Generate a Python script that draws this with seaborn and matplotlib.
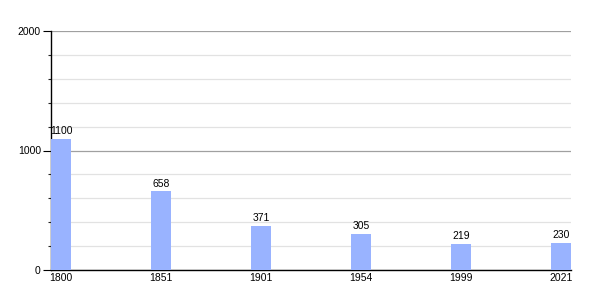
import matplotlib
matplotlib.use("Agg")
import matplotlib.pyplot as plt
import seaborn as sns
import pandas as pd
from matplotlib.ticker import MultipleLocator

years = ["1800", "1851", "1901", "1954", "1999", "2021"]
population = [1100, 658, 371, 305, 219, 230]

df = pd.DataFrame({"year": years, "pop": population})

sns.set_theme(style="white")
plt.rcParams["font.family"] = ["Liberation Sans", "DejaVu Sans"]

fig = plt.figure(figsize=(6, 3), dpi=100)
ax = fig.add_axes([51/600, 30/300, 520/600, 239/300])

sns.barplot(data=df, x="year", y="pop", color="#99b3ff", saturation=1,
            width=0.2, linewidth=0, ax=ax, zorder=3)

ax.set_xlim(-0.1, 5.1)
ax.set_ylim(0, 2000)
ax.yaxis.set_major_locator(MultipleLocator(1000))
ax.yaxis.set_minor_locator(MultipleLocator(200))
ax.grid(which="major", axis="y", color="#a0a0a0", linewidth=0.9, zorder=0)
ax.grid(which="minor", axis="y", color="#e2e2e2", linewidth=0.9, zorder=0)
ax.set_axisbelow(True)

for s in ["top", "right"]:
    ax.spines[s].set_visible(False)
for s in ["left", "bottom"]:
    ax.spines[s].set_color("black")
    ax.spines[s].set_linewidth(1.0)

ax.tick_params(axis="y", which="major", left=True, length=5.8, width=0.8,
               labelsize=7.5, pad=1.5, colors="black")
ax.tick_params(axis="y", which="minor", left=True, length=2.2, width=0.8)
ax.tick_params(axis="x", bottom=False, length=0, labelsize=7.5, pad=2.5,
               colors="black")
ax.set_xlabel("")
ax.set_ylabel("")

for c in ax.containers:
    ax.bar_label(c, labels=[str(v) for v in population], fontsize=7.5,
                 padding=2, color="black")

fig.savefig("out.png", dpi=100)
